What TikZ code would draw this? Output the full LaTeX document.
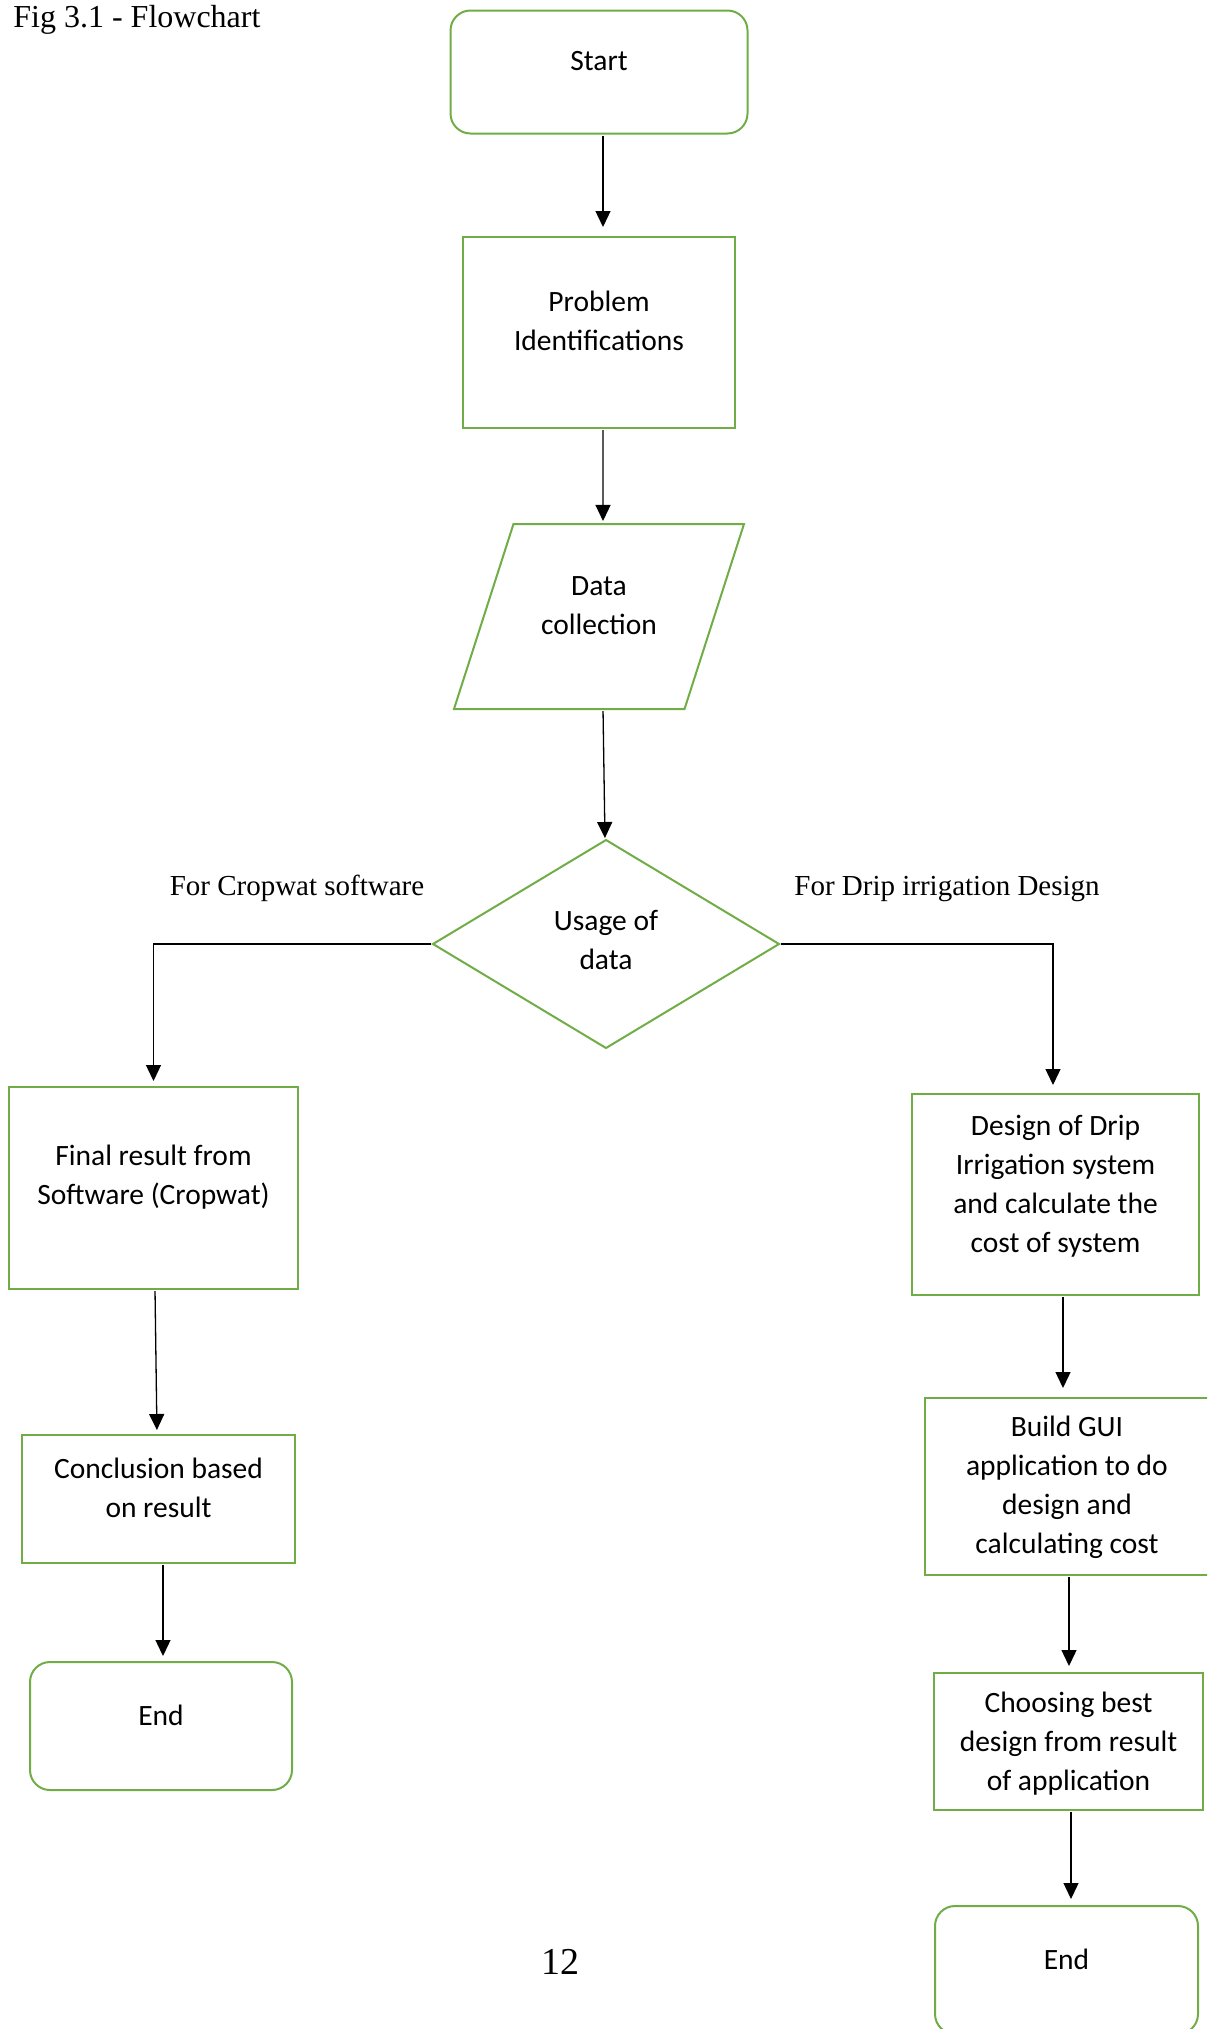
\documentclass[tikz,border=0pt]{standalone}
\usepackage{fontspec}
\setmainfont{Liberation Serif}
\newfontfamily\calibri{Carlito}
\usepackage{tikz}
\usetikzlibrary{shapes.geometric, arrows.meta, positioning}
\definecolor{boxgreen}{RGB}{112, 173, 71}

\begin{document}
\begin{tikzpicture}[x=0.5pt, y=-0.5pt,
                    flowbox/.style={draw=boxgreen, line width=1pt, inner sep=0pt, outer sep=0pt, align=center,
                        font=\calibri\fontsize{14.75}{19.5}\selectfont, text depth=11pt},
                    startstop/.style={flowbox, rectangle, rounded corners=10pt},
                    process/.style={flowbox, rectangle},
                    io/.style={flowbox, trapezium, trapezium left angle=53, trapezium right angle=127, trapezium stretches body},
                    decision/.style={flowbox, diamond},
                    flowarrow/.style={-{Triangle[length=8pt, width=7.5pt]}, line width=0.65pt, shorten >=3pt, shorten <=1pt},
                    branchlabel/.style={anchor=base, inner sep=0pt, font=\fontsize{14.5}{17}\selectfont}]
                    \clip (0,0) rectangle (1207,2029);
                    \node[anchor=base west, inner sep=0pt, font=\fontsize{16}{19}\selectfont] (caption) at (13,27) {Fig 3.1 - Flowchart};
                    \node[startstop, minimum width=148.5pt, minimum height=61.5pt, text depth=11.5pt] (start) at (599,72) {Start};
                    \node[process, minimum width=136pt, minimum height=95.5pt, text depth=12pt] (problem) at (599,332.5) {Problem\\Identifications};
                    \node[io, minimum width=145pt, minimum height=92.5pt, text depth=10.5pt] (data) at (599,616.5) {Data\\collection};
                    \node[decision, minimum width=173pt, minimum height=104pt, text depth=4pt] (usage) at (606,944) {Usage of\\data};
                    \node[branchlabel] (cropwat) at (297,895) {For Cropwat software};
                    \node[branchlabel] (drip) at (947,895) {For Drip irrigation Design};
                    \node[process, minimum width=144.5pt, minimum height=101pt, text depth=13pt] (final) at (153.5,1188) {Final result from\\Software (Cropwat)};
                    \node[process, minimum width=136.5pt, minimum height=64pt] (conclusion) at (158.5,1499) {Conclusion based\\on result};
                    \node[startstop, minimum width=131pt, minimum height=64pt] (endleft) at (161,1726) {End};
                    \node[process, minimum width=143.5pt, minimum height=100.5pt, text depth=10.5pt] (design) at (1055.5,1194.5) {Design of Drip\\Irrigation system\\and calculate the\\cost of system};
                    \node[process, minimum width=142pt, minimum height=88.5pt, text depth=1.5pt] (gui) at (1067,1486.5) {Build GUI\\application to do\\design and\\calculating cost};
                    \node[process, minimum width=134.5pt, minimum height=68.5pt, text depth=0pt] (choose) at (1068.5,1741.5) {Choosing best\\design from result\\of application};
                    \node[startstop, minimum width=131.5pt, minimum height=64pt] (endright) at (1066.5,1970) {End};
                    \node[anchor=base, inner sep=0pt, font=\fontsize{19}{23}\selectfont] (pagenum) at (560,1974) {12};
                    \draw[flowarrow, shorten >=5pt] ([xshift=2pt]start.south) -- ([xshift=2pt]problem.north);
                    \draw[flowarrow, shorten >=1.5pt] ([xshift=2pt]problem.south) -- ([xshift=2pt]data.north);
                    \draw[flowarrow, shorten >=1pt] ([xshift=2pt]data.south) -- ([xshift=-0.5pt]usage.north);
                    \draw[flowarrow] (usage.west) -| (final.north);
                    \draw[flowarrow, shorten >=4.5pt] (usage.east) -| ([xshift=-1.25pt]design.north);
                    \draw[flowarrow, shorten >=2.5pt] ([xshift=0.75pt]final.south) -- ([xshift=-0.75pt]conclusion.north);
                    \draw[flowarrow] ([xshift=2.25pt]conclusion.south) -- ([xshift=1pt]endleft.north);
                    \draw[flowarrow, shorten >=5pt] ([xshift=3.75pt]design.south) -- ([xshift=-2pt]gui.north);
                    \draw[flowarrow, shorten >=3.5pt] ([xshift=1pt]gui.south) -- ([xshift=0.25pt]choose.north);
                    \draw[flowarrow, shorten >=3.5pt] ([xshift=1.25pt]choose.south) -- ([xshift=2.25pt]endright.north);
                \end{tikzpicture}
\end{document}
